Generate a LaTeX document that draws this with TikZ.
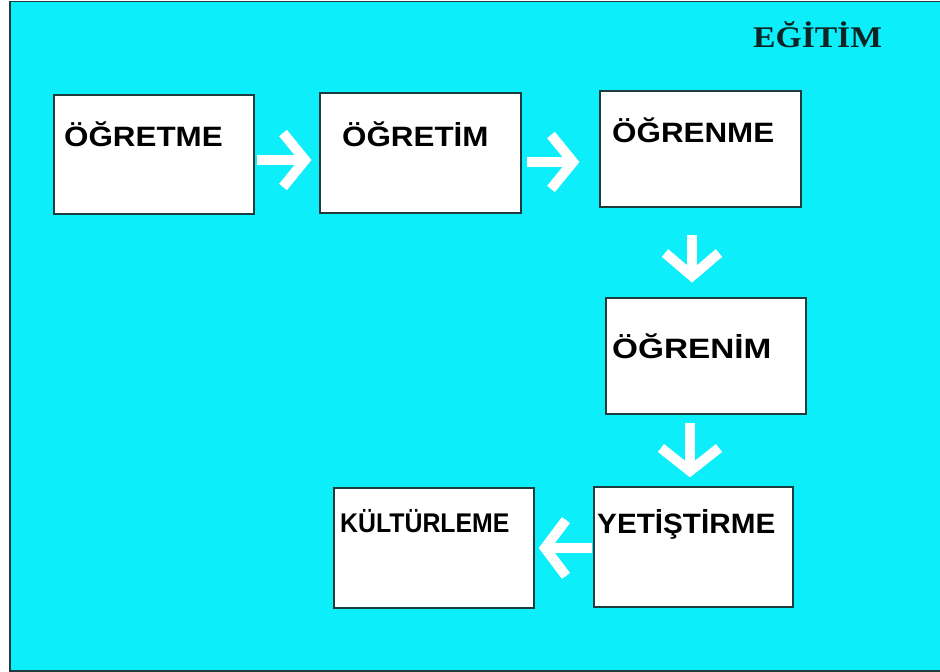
\documentclass[tikz,border=0pt]{standalone}
\usepackage{fontspec}
\usetikzlibrary{calc}
\newfontfamily\boxfont{Liberation Sans}[FakeStretch=1.12]
\newfontfamily\widefont{Liberation Sans}[FakeStretch=1.19]
\newfontfamily\yetfont{Liberation Sans}[FakeStretch=1.06]
\newfontfamily\narrowfont{Liberation Sans}[FakeStretch=0.92]
\newfontfamily\titlefont{Liberation Serif}[FakeStretch=1.12]
\definecolor{bgcyan}{RGB}{12,238,250}
\definecolor{edge}{RGB}{28,60,62}
\definecolor{titlecol}{RGB}{12,36,36}
\tikzset{
  x=1pt,y=-1pt,
  boxnode/.style={draw=edge,line width=1.8pt,fill=white,minimum width=#1,inner sep=0pt,anchor=north west},
  lbl/.style={anchor=base west,inner sep=0pt,font=\boxfont\bfseries\fontsize{28}{28}\selectfont},
  warrow/.style={draw=white,line width=10pt,line cap=butt,line join=miter},
}
\begin{document}
\begin{tikzpicture}
\useasboundingbox (0,0) rectangle (940,672);
\fill[white] (0,0) rectangle (940,672);
\draw[fill=bgcyan,draw=edge,line width=1.8pt] (10,1.5) rectangle (948,671);
% title
\node[anchor=base west,inner sep=0pt,text=titlecol,font=\titlefont\bfseries\fontsize{30}{30}\selectfont] (title) at (753,47) {EĞİTİM};
% boxes
\node[boxnode=200pt,minimum height=119pt] (b1) at (53,94) {};
\node[boxnode=201pt,minimum height=120pt] (b2) at (319,92) {};
\node[boxnode=201pt,minimum height=116pt] (b3) at (599,90) {};
\node[boxnode=200pt,minimum height=116pt] (b4) at (605,297) {};
\node[boxnode=199pt,minimum height=120pt] (b5) at (593,486) {};
\node[boxnode=200pt,minimum height=120pt] (b6) at (333,487) {};
% labels
\node[lbl] (t1) at (64,146) {ÖĞRETME};
\node[lbl] (t2) at (342,146) {ÖĞRETİM};
\node[lbl] (t3) at (612,142) {ÖĞRENME};
\node[lbl,font=\widefont\bfseries\fontsize{28}{28}\selectfont] (t4) at (612,358) {ÖĞRENİM};
\node[lbl,font=\yetfont\bfseries\fontsize{28}{28}\selectfont] (t5) at (597,533) {YETİŞTİRME};
\node[lbl,font=\narrowfont\bfseries\fontsize{27}{27}\selectfont] (t6) at (340,532) {KÜLTÜRLEME};
% arrow coordinates
\coordinate (a1s) at (b1.east |- 0,160);
\coordinate (a1e) at (305,160);
\coordinate (a2s) at (b2.east |- 0,162);
\coordinate (a2e) at (573,162);
\coordinate (a3s) at (692,235);
\coordinate (a3e) at (692,276);
\coordinate (a4s) at (690,423);
\coordinate (a4e) at (690,471);
\coordinate (a5s) at (b5.west |- 0,548);
\coordinate (a5e) at (545,548);
% arrows
\draw[warrow] ([xshift=2pt]a1s) -- (a1e);
\draw[warrow] ($(a1e)+(-22,-27)$) -- (a1e) -- ($(a1e)+(-22,27)$);
\draw[warrow] ([xshift=5pt]a2s) -- (a2e);
\draw[warrow] ($(a2e)+(-22,-27)$) -- (a2e) -- ($(a2e)+(-22,27)$);
\draw[warrow] (a3s) -- (a3e);
\draw[warrow] ($(a3e)+(-27,-23)$) -- (a3e) -- ($(a3e)+(27,-23)$);
\draw[warrow] (a4s) -- (a4e);
\draw[warrow] ($(a4e)+(-29,-23)$) -- (a4e) -- ($(a4e)+(29,-23)$);
\draw[warrow] ([xshift=-1pt]a5s) -- (a5e);
\draw[warrow] ($(a5e)+(21,-28)$) -- (a5e) -- ($(a5e)+(21,28)$);
\end{tikzpicture}
\end{document}
